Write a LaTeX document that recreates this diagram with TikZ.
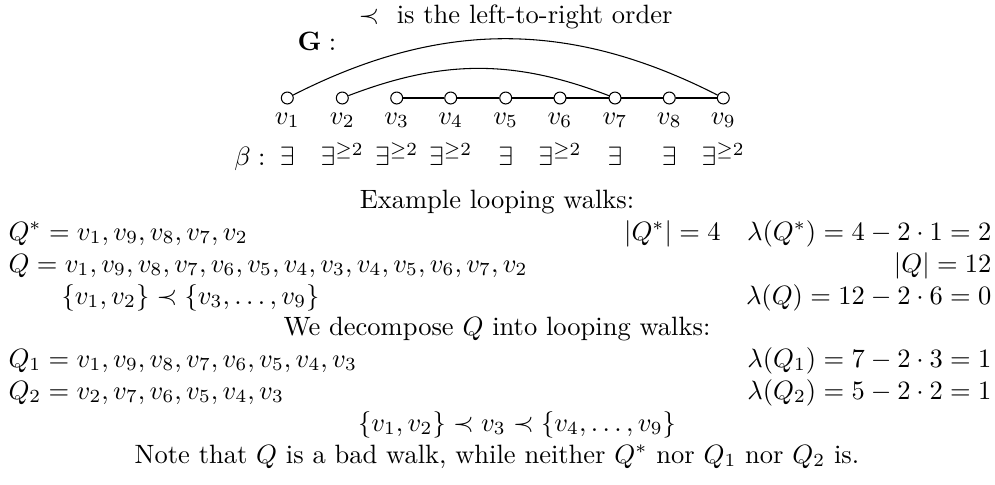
\documentclass[tikz,border=0pt]{standalone}
\begin{document}
\begin{tikzpicture}[x=0.3774pt,y=-0.3774pt,
  vtx/.style={circle,draw,inner sep=0pt,minimum size=4.5pt,fill=white},
  txt/.style={inner sep=0pt},
  edge/.style={line width=0.4pt}]
\useasboundingbox (0,0) rectangle (995,484);
\node[txt,anchor=base west] (title) at (358,23.5) {$\prec$\ \ is the left-to-right order};
\node[txt,anchor=base west] (G) at (297,50) {$\mathbf{G}:$};
\foreach \i/\x in {1/287.3,2/342.3,3/396.7,4/450.7,5/505.7,6/560,7/615,8/669.3,9/723.3}{
  \node[vtx] (v\i) at (\x,98) {};
  \node[txt,anchor=base] (l\i) at (\x,124) {$v_\i$};
}
\node[txt,anchor=base east] (beta) at (266,165) {$\beta:$};
\foreach \i/\x/\t in {1/287.3/{\exists},2/342.3/{\exists^{\geq 2}},3/396.7/{\exists^{\geq 2}},4/450.7/{\exists^{\geq 2}},5/505.7/{\exists},6/560/{\exists^{\geq 2}},7/615/{\exists},8/669.3/{\exists},9/723.3/{\exists^{\geq 2}}}{
  \node[txt,anchor=base] (b\i) at (\x,165) {$\t$};
}
\draw[edge] (v3) -- (v4) -- (v5) -- (v6) -- (v7) -- (v8) -- (v9);
\draw[edge] (v1) to[bend left=27] (v9);
\draw[edge] (v2) to[bend left=21] (v7);
\node[txt,anchor=base] (ex) at (497,208) {Example looping walks:};
\node[txt,anchor=base west] (qs) at (8,240) {$Q^* = v_1, v_9, v_8, v_7, v_2$};
\node[txt,anchor=base east] (qsr) at (992,240) {$|Q^*| = 4 \quad \lambda(Q^*) = 4 - 2\cdot 1 = 2$};
\node[txt,anchor=base west] (q) at (8,272) {$Q = v_1, v_9, v_8, v_7, v_6, v_5, v_4, v_3, v_4, v_5, v_6, v_7, v_2$};
\node[txt,anchor=base east] (qr) at (992,272) {$|Q| = 12$};
\node[txt,anchor=base west] (ord) at (8,304) {$\qquad\{v_1, v_2\} \prec \{v_3, \ldots, v_9\}$};
\node[txt,anchor=base east] (lq) at (992,304) {$\lambda(Q) = 12 - 2\cdot 6 = 0$};
\node[txt,anchor=base] (dec) at (497,335) {We decompose $Q$ into looping walks:};
\node[txt,anchor=base west] (q1) at (8,367) {$Q_1 = v_1, v_9, v_8, v_7, v_6, v_5, v_4, v_3$};
\node[txt,anchor=base east] (l1) at (992,367) {$\lambda(Q_1) = 7 - 2\cdot 3 = 1$};
\node[txt,anchor=base west] (q2) at (8,399) {$Q_2 = v_2, v_7, v_6, v_5, v_4, v_3$};
\node[txt,anchor=base east] (l2) at (992,399) {$\lambda(Q_2) = 5 - 2\cdot 2 = 1$};
\node[txt,anchor=base] (ord2) at (517,431) {$\{v_1, v_2\} \prec v_3 \prec \{v_4, \ldots, v_9\}$};
\node[txt,anchor=base] (note) at (497,463) {Note that $Q$ is a bad walk, while neither $Q^*$ nor $Q_1$ nor $Q_2$ is.};
\end{tikzpicture}
\end{document}
